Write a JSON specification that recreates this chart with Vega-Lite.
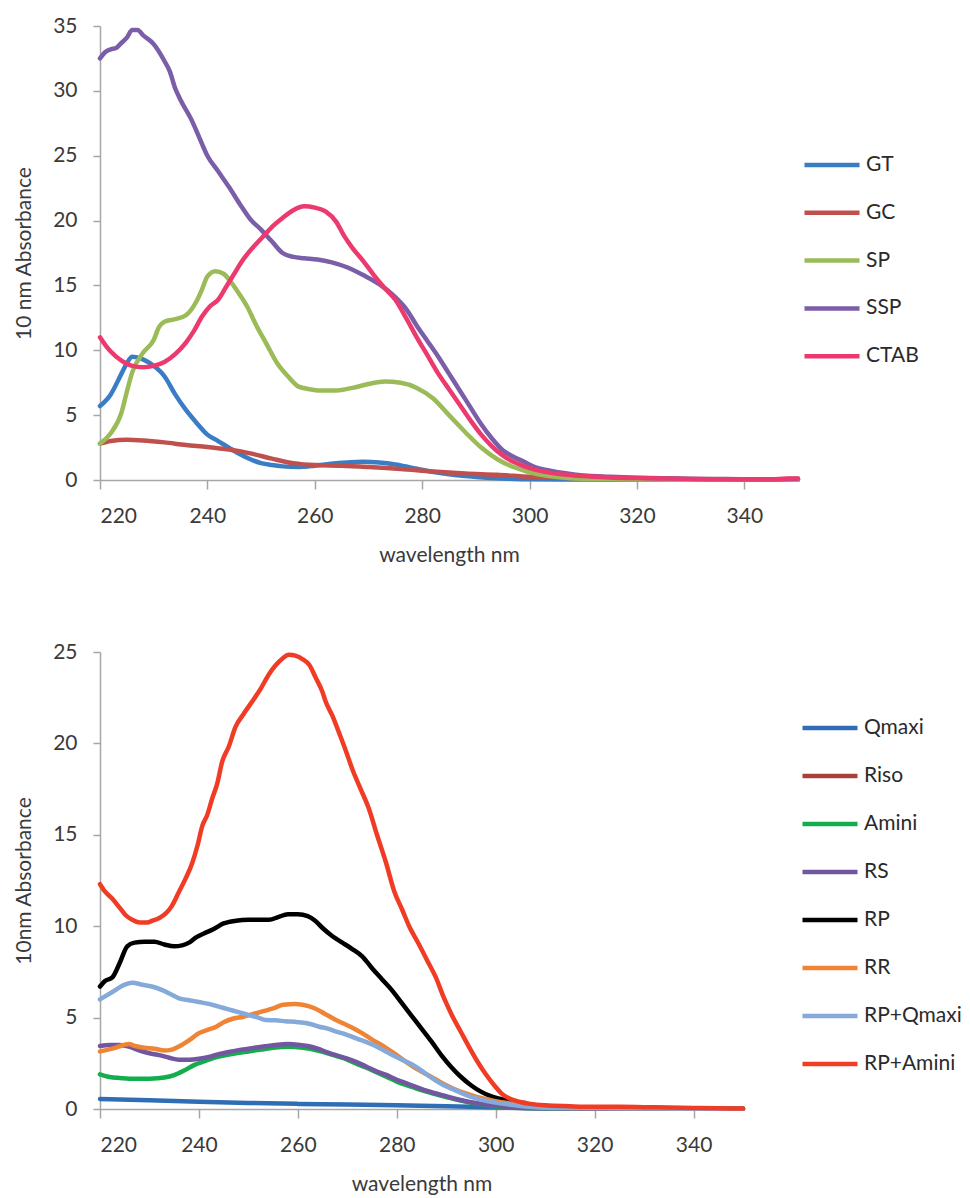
{
  "$schema": "https://vega.github.io/schema/vega-lite/v6.json",
  "padding": {"left": 13, "top": 15, "right": 5, "bottom": 5},
  "spacing": 76,
  "background": "white",
  "resolve": {"scale": {"color": "independent"}, "legend": {"color": "independent"}},
  "config": {
    "view": {"stroke": null},
    "font": "Lato",
    "axis": {
      "grid": false,
      "domainColor": "#A6A6A6",
      "domainWidth": 1.5,
      "tickColor": "#A6A6A6",
      "tickWidth": 1.5,
      "labelFont": "Lato",
      "labelFontSize": 21,
      "labelColor": "#3a3a3a",
      "labelPadding": 16,
      "titleFont": "Lato",
      "titleFontSize": 21,
      "titleFontWeight": "normal",
      "titleColor": "#3a3a3a",
      "titlePadding": 18
    },
    "legend": {
      "title": null,
      "symbolType": "stroke",
      "symbolSize": 3025,
      "symbolStrokeWidth": 4.5,
      "labelFont": "Lato",
      "labelFontSize": 21,
      "labelColor": "#2a2a2a",
      "labelOffset": 4,
      "rowPadding": 8,
      "padding": 0
    }
  },
  "datasets": {
    "top": [
      {"s":"GT","w":220,"a":5.7},{"s":"GT","w":222,"a":6.6},{"s":"GT","w":224,"a":8.2},{"s":"GT","w":225,"a":9.0},{"s":"GT","w":226,"a":9.5},{"s":"GT","w":228,"a":9.3},{"s":"GT","w":230,"a":8.8},{"s":"GT","w":232,"a":8.0},{"s":"GT","w":234,"a":6.6},{"s":"GT","w":236,"a":5.4},{"s":"GT","w":238,"a":4.4},{"s":"GT","w":240,"a":3.5},{"s":"GT","w":242,"a":3.0},{"s":"GT","w":244,"a":2.5},{"s":"GT","w":246,"a":2.0},{"s":"GT","w":248,"a":1.6},{"s":"GT","w":250,"a":1.3},{"s":"GT","w":252,"a":1.15},{"s":"GT","w":254,"a":1.05},{"s":"GT","w":257,"a":1.0},{"s":"GT","w":260,"a":1.1},{"s":"GT","w":263,"a":1.25},{"s":"GT","w":266,"a":1.35},{"s":"GT","w":269,"a":1.4},{"s":"GT","w":272,"a":1.35},{"s":"GT","w":275,"a":1.2},{"s":"GT","w":278,"a":0.95},{"s":"GT","w":281,"a":0.7},{"s":"GT","w":284,"a":0.5},{"s":"GT","w":288,"a":0.3},{"s":"GT","w":292,"a":0.18},{"s":"GT","w":296,"a":0.1},{"s":"GT","w":300,"a":0.05},{"s":"GT","w":310,"a":0.03},{"s":"GT","w":320,"a":0.02},{"s":"GT","w":330,"a":0.02},{"s":"GT","w":340,"a":0.02},{"s":"GT","w":350,"a":0.02},
      {"s":"GC","w":220,"a":2.8},{"s":"GC","w":222,"a":3.0},{"s":"GC","w":225,"a":3.1},{"s":"GC","w":228,"a":3.05},{"s":"GC","w":232,"a":2.9},{"s":"GC","w":236,"a":2.7},{"s":"GC","w":240,"a":2.55},{"s":"GC","w":244,"a":2.35},{"s":"GC","w":248,"a":2.05},{"s":"GC","w":252,"a":1.65},{"s":"GC","w":256,"a":1.3},{"s":"GC","w":260,"a":1.15},{"s":"GC","w":265,"a":1.1},{"s":"GC","w":270,"a":1.0},{"s":"GC","w":276,"a":0.85},{"s":"GC","w":282,"a":0.65},{"s":"GC","w":288,"a":0.5},{"s":"GC","w":294,"a":0.4},{"s":"GC","w":300,"a":0.25},{"s":"GC","w":305,"a":0.18},{"s":"GC","w":310,"a":0.12},{"s":"GC","w":320,"a":0.08},{"s":"GC","w":330,"a":0.05},{"s":"GC","w":340,"a":0.04},{"s":"GC","w":350,"a":0.03},
      {"s":"SP","w":220,"a":2.8},{"s":"SP","w":222,"a":3.6},{"s":"SP","w":224,"a":5.2},{"s":"SP","w":225,"a":6.8},{"s":"SP","w":226,"a":8.3},{"s":"SP","w":228,"a":9.8},{"s":"SP","w":230,"a":10.8},{"s":"SP","w":231,"a":11.8},{"s":"SP","w":232,"a":12.2},{"s":"SP","w":234,"a":12.4},{"s":"SP","w":236,"a":12.7},{"s":"SP","w":238,"a":13.8},{"s":"SP","w":239,"a":14.7},{"s":"SP","w":240,"a":15.7},{"s":"SP","w":241.5,"a":16.1},{"s":"SP","w":243,"a":15.9},{"s":"SP","w":244.5,"a":15.2},{"s":"SP","w":246,"a":14.3},{"s":"SP","w":247.5,"a":13.3},{"s":"SP","w":249,"a":12.0},{"s":"SP","w":251,"a":10.5},{"s":"SP","w":253,"a":9.0},{"s":"SP","w":255,"a":8.0},{"s":"SP","w":257,"a":7.2},{"s":"SP","w":259,"a":7.0},{"s":"SP","w":261,"a":6.9},{"s":"SP","w":264,"a":6.9},{"s":"SP","w":267,"a":7.1},{"s":"SP","w":270,"a":7.4},{"s":"SP","w":273,"a":7.6},{"s":"SP","w":276,"a":7.5},{"s":"SP","w":279,"a":7.1},{"s":"SP","w":282,"a":6.3},{"s":"SP","w":285,"a":5.0},{"s":"SP","w":288,"a":3.7},{"s":"SP","w":291,"a":2.5},{"s":"SP","w":294,"a":1.6},{"s":"SP","w":297,"a":1.0},{"s":"SP","w":300,"a":0.6},{"s":"SP","w":303,"a":0.35},{"s":"SP","w":306,"a":0.2},{"s":"SP","w":310,"a":0.1},{"s":"SP","w":315,"a":0.05},{"s":"SP","w":320,"a":0.03},{"s":"SP","w":330,"a":0.02},{"s":"SP","w":340,"a":0.02},{"s":"SP","w":350,"a":0.02},
      {"s":"SSP","w":220,"a":32.5},{"s":"SSP","w":221,"a":33.0},{"s":"SSP","w":222,"a":33.2},{"s":"SSP","w":223,"a":33.3},{"s":"SSP","w":224,"a":33.7},{"s":"SSP","w":225,"a":34.1},{"s":"SSP","w":226,"a":34.7},{"s":"SSP","w":227,"a":34.7},{"s":"SSP","w":228,"a":34.3},{"s":"SSP","w":230,"a":33.6},{"s":"SSP","w":232,"a":32.3},{"s":"SSP","w":233,"a":31.5},{"s":"SSP","w":234,"a":30.2},{"s":"SSP","w":235,"a":29.3},{"s":"SSP","w":237,"a":27.8},{"s":"SSP","w":238.5,"a":26.4},{"s":"SSP","w":240,"a":25.0},{"s":"SSP","w":242,"a":23.8},{"s":"SSP","w":244,"a":22.6},{"s":"SSP","w":246,"a":21.3},{"s":"SSP","w":248,"a":20.1},{"s":"SSP","w":250,"a":19.3},{"s":"SSP","w":252,"a":18.4},{"s":"SSP","w":254,"a":17.5},{"s":"SSP","w":256,"a":17.2},{"s":"SSP","w":258,"a":17.1},{"s":"SSP","w":260.5,"a":17.0},{"s":"SSP","w":263,"a":16.8},{"s":"SSP","w":266,"a":16.4},{"s":"SSP","w":269,"a":15.8},{"s":"SSP","w":272,"a":15.1},{"s":"SSP","w":275,"a":14.1},{"s":"SSP","w":277,"a":13.2},{"s":"SSP","w":279,"a":11.9},{"s":"SSP","w":281,"a":10.7},{"s":"SSP","w":283,"a":9.5},{"s":"SSP","w":285,"a":8.2},{"s":"SSP","w":287,"a":6.9},{"s":"SSP","w":289,"a":5.6},{"s":"SSP","w":291,"a":4.3},{"s":"SSP","w":293,"a":3.2},{"s":"SSP","w":295,"a":2.3},{"s":"SSP","w":297,"a":1.8},{"s":"SSP","w":299,"a":1.4},{"s":"SSP","w":301,"a":1.0},{"s":"SSP","w":304,"a":0.7},{"s":"SSP","w":307,"a":0.5},{"s":"SSP","w":310,"a":0.35},{"s":"SSP","w":315,"a":0.25},{"s":"SSP","w":320,"a":0.18},{"s":"SSP","w":325,"a":0.14},{"s":"SSP","w":330,"a":0.1},{"s":"SSP","w":335,"a":0.08},{"s":"SSP","w":340,"a":0.06},{"s":"SSP","w":345,"a":0.06},{"s":"SSP","w":350,"a":0.1},
      {"s":"CTAB","w":220,"a":11.0},{"s":"CTAB","w":221,"a":10.4},{"s":"CTAB","w":222,"a":9.9},{"s":"CTAB","w":224,"a":9.2},{"s":"CTAB","w":226,"a":8.8},{"s":"CTAB","w":228,"a":8.7},{"s":"CTAB","w":230,"a":8.8},{"s":"CTAB","w":232,"a":9.1},{"s":"CTAB","w":234,"a":9.7},{"s":"CTAB","w":236,"a":10.6},{"s":"CTAB","w":237.5,"a":11.5},{"s":"CTAB","w":239,"a":12.6},{"s":"CTAB","w":240.5,"a":13.4},{"s":"CTAB","w":242,"a":13.9},{"s":"CTAB","w":243.5,"a":14.9},{"s":"CTAB","w":245,"a":15.9},{"s":"CTAB","w":246.5,"a":16.9},{"s":"CTAB","w":248,"a":17.7},{"s":"CTAB","w":250,"a":18.6},{"s":"CTAB","w":252,"a":19.5},{"s":"CTAB","w":254,"a":20.2},{"s":"CTAB","w":256,"a":20.8},{"s":"CTAB","w":258,"a":21.1},{"s":"CTAB","w":260,"a":21.0},{"s":"CTAB","w":262,"a":20.7},{"s":"CTAB","w":264,"a":19.9},{"s":"CTAB","w":265.5,"a":18.8},{"s":"CTAB","w":267,"a":17.9},{"s":"CTAB","w":269,"a":16.9},{"s":"CTAB","w":271,"a":15.8},{"s":"CTAB","w":273,"a":14.8},{"s":"CTAB","w":275,"a":13.9},{"s":"CTAB","w":277,"a":12.5},{"s":"CTAB","w":279,"a":11.0},{"s":"CTAB","w":281,"a":9.6},{"s":"CTAB","w":283,"a":8.2},{"s":"CTAB","w":285,"a":7.0},{"s":"CTAB","w":287,"a":5.8},{"s":"CTAB","w":289,"a":4.6},{"s":"CTAB","w":291,"a":3.5},{"s":"CTAB","w":293,"a":2.6},{"s":"CTAB","w":295,"a":1.9},{"s":"CTAB","w":297,"a":1.4},{"s":"CTAB","w":299,"a":1.05},{"s":"CTAB","w":301,"a":0.8},{"s":"CTAB","w":304,"a":0.55},{"s":"CTAB","w":307,"a":0.4},{"s":"CTAB","w":310,"a":0.3},{"s":"CTAB","w":315,"a":0.2},{"s":"CTAB","w":320,"a":0.15},{"s":"CTAB","w":325,"a":0.12},{"s":"CTAB","w":330,"a":0.08},{"s":"CTAB","w":335,"a":0.06},{"s":"CTAB","w":340,"a":0.05},{"s":"CTAB","w":345,"a":0.05},{"s":"CTAB","w":348,"a":0.12},{"s":"CTAB","w":350,"a":0.12}
    ],
    "bottom": [
      {"s":"Qmaxi","w":220,"a":0.55},{"s":"Qmaxi","w":230,"a":0.48},{"s":"Qmaxi","w":240,"a":0.4},{"s":"Qmaxi","w":250,"a":0.33},{"s":"Qmaxi","w":260,"a":0.28},{"s":"Qmaxi","w":270,"a":0.24},{"s":"Qmaxi","w":280,"a":0.2},{"s":"Qmaxi","w":290,"a":0.15},{"s":"Qmaxi","w":300,"a":0.08},{"s":"Qmaxi","w":310,"a":0.04},{"s":"Qmaxi","w":320,"a":0.02},{"s":"Qmaxi","w":330,"a":0.02},{"s":"Qmaxi","w":340,"a":0.01},{"s":"Qmaxi","w":350,"a":0.01},
      {"s":"Amini","w":220,"a":1.9},{"s":"Amini","w":222,"a":1.75},{"s":"Amini","w":224,"a":1.7},{"s":"Amini","w":227,"a":1.65},{"s":"Amini","w":230,"a":1.66},{"s":"Amini","w":233,"a":1.72},{"s":"Amini","w":235,"a":1.85},{"s":"Amini","w":237,"a":2.1},{"s":"Amini","w":239,"a":2.4},{"s":"Amini","w":241,"a":2.6},{"s":"Amini","w":243,"a":2.8},{"s":"Amini","w":245,"a":2.92},{"s":"Amini","w":247.5,"a":3.05},{"s":"Amini","w":250,"a":3.15},{"s":"Amini","w":252.5,"a":3.25},{"s":"Amini","w":255,"a":3.35},{"s":"Amini","w":258,"a":3.4},{"s":"Amini","w":261,"a":3.35},{"s":"Amini","w":264,"a":3.2},{"s":"Amini","w":266,"a":3.05},{"s":"Amini","w":268,"a":2.88},{"s":"Amini","w":270,"a":2.7},{"s":"Amini","w":272,"a":2.45},{"s":"Amini","w":274,"a":2.25},{"s":"Amini","w":276,"a":2.0},{"s":"Amini","w":278,"a":1.75},{"s":"Amini","w":280,"a":1.5},{"s":"Amini","w":282,"a":1.3},{"s":"Amini","w":284,"a":1.12},{"s":"Amini","w":286,"a":0.95},{"s":"Amini","w":288,"a":0.8},{"s":"Amini","w":290,"a":0.65},{"s":"Amini","w":292,"a":0.52},{"s":"Amini","w":294,"a":0.4},{"s":"Amini","w":296,"a":0.3},{"s":"Amini","w":298,"a":0.22},{"s":"Amini","w":300,"a":0.15},{"s":"Amini","w":303,"a":0.08},{"s":"Amini","w":306,"a":0.05},{"s":"Amini","w":310,"a":0.03},{"s":"Amini","w":320,"a":0.02},{"s":"Amini","w":330,"a":0.02},{"s":"Amini","w":340,"a":0.01},{"s":"Amini","w":350,"a":0.01},
      {"s":"RS","w":220,"a":3.45},{"s":"RS","w":222,"a":3.5},{"s":"RS","w":224,"a":3.5},{"s":"RS","w":226,"a":3.4},{"s":"RS","w":228,"a":3.2},{"s":"RS","w":230,"a":3.05},{"s":"RS","w":232,"a":2.95},{"s":"RS","w":234,"a":2.8},{"s":"RS","w":236,"a":2.7},{"s":"RS","w":238,"a":2.7},{"s":"RS","w":240,"a":2.75},{"s":"RS","w":242,"a":2.85},{"s":"RS","w":244,"a":3.0},{"s":"RS","w":246,"a":3.12},{"s":"RS","w":248,"a":3.22},{"s":"RS","w":250,"a":3.3},{"s":"RS","w":252,"a":3.38},{"s":"RS","w":254,"a":3.45},{"s":"RS","w":256,"a":3.52},{"s":"RS","w":258,"a":3.55},{"s":"RS","w":260,"a":3.52},{"s":"RS","w":262,"a":3.45},{"s":"RS","w":264,"a":3.3},{"s":"RS","w":266,"a":3.1},{"s":"RS","w":268,"a":2.92},{"s":"RS","w":270,"a":2.75},{"s":"RS","w":272,"a":2.55},{"s":"RS","w":274,"a":2.3},{"s":"RS","w":276,"a":2.05},{"s":"RS","w":278,"a":1.85},{"s":"RS","w":280,"a":1.6},{"s":"RS","w":282,"a":1.4},{"s":"RS","w":284,"a":1.2},{"s":"RS","w":286,"a":1.0},{"s":"RS","w":288,"a":0.85},{"s":"RS","w":290,"a":0.7},{"s":"RS","w":292,"a":0.55},{"s":"RS","w":294,"a":0.43},{"s":"RS","w":296,"a":0.33},{"s":"RS","w":298,"a":0.25},{"s":"RS","w":300,"a":0.18},{"s":"RS","w":303,"a":0.1},{"s":"RS","w":306,"a":0.06},{"s":"RS","w":310,"a":0.04},{"s":"RS","w":320,"a":0.02},{"s":"RS","w":330,"a":0.02},{"s":"RS","w":340,"a":0.01},{"s":"RS","w":350,"a":0.01},
      {"s":"RP","w":220,"a":6.7},{"s":"RP","w":221,"a":7.0},{"s":"RP","w":222.5,"a":7.2},{"s":"RP","w":224,"a":8.0},{"s":"RP","w":225.5,"a":8.9},{"s":"RP","w":227,"a":9.1},{"s":"RP","w":229,"a":9.15},{"s":"RP","w":231,"a":9.15},{"s":"RP","w":233,"a":9.0},{"s":"RP","w":235,"a":8.9},{"s":"RP","w":236.6,"a":8.95},{"s":"RP","w":238,"a":9.1},{"s":"RP","w":239.5,"a":9.4},{"s":"RP","w":241,"a":9.6},{"s":"RP","w":243,"a":9.85},{"s":"RP","w":245,"a":10.15},{"s":"RP","w":247.5,"a":10.3},{"s":"RP","w":250,"a":10.35},{"s":"RP","w":252,"a":10.35},{"s":"RP","w":254.2,"a":10.35},{"s":"RP","w":256,"a":10.5},{"s":"RP","w":258,"a":10.65},{"s":"RP","w":260,"a":10.65},{"s":"RP","w":262,"a":10.55},{"s":"RP","w":263.5,"a":10.3},{"s":"RP","w":265,"a":9.9},{"s":"RP","w":267,"a":9.45},{"s":"RP","w":269,"a":9.1},{"s":"RP","w":271,"a":8.75},{"s":"RP","w":273,"a":8.35},{"s":"RP","w":275,"a":7.7},{"s":"RP","w":277,"a":7.1},{"s":"RP","w":279,"a":6.5},{"s":"RP","w":281,"a":5.8},{"s":"RP","w":283,"a":5.1},{"s":"RP","w":285,"a":4.4},{"s":"RP","w":287,"a":3.7},{"s":"RP","w":289,"a":2.95},{"s":"RP","w":291,"a":2.3},{"s":"RP","w":293,"a":1.75},{"s":"RP","w":295,"a":1.3},{"s":"RP","w":297,"a":0.95},{"s":"RP","w":299,"a":0.7},{"s":"RP","w":301,"a":0.55},{"s":"RP","w":303,"a":0.42},{"s":"RP","w":305,"a":0.3},{"s":"RP","w":308,"a":0.18},{"s":"RP","w":312,"a":0.1},{"s":"RP","w":320,"a":0.05},{"s":"RP","w":330,"a":0.04},{"s":"RP","w":340,"a":0.02},{"s":"RP","w":350,"a":0.02},
      {"s":"RR","w":220,"a":3.15},{"s":"RR","w":222.5,"a":3.3},{"s":"RR","w":225.9,"a":3.55},{"s":"RR","w":227,"a":3.45},{"s":"RR","w":229,"a":3.35},{"s":"RR","w":231,"a":3.3},{"s":"RR","w":233,"a":3.2},{"s":"RR","w":234.5,"a":3.25},{"s":"RR","w":236.5,"a":3.5},{"s":"RR","w":238.5,"a":3.85},{"s":"RR","w":240,"a":4.15},{"s":"RR","w":242,"a":4.35},{"s":"RR","w":243.5,"a":4.5},{"s":"RR","w":245,"a":4.75},{"s":"RR","w":247,"a":4.95},{"s":"RR","w":249,"a":5.05},{"s":"RR","w":251,"a":5.2},{"s":"RR","w":253,"a":5.35},{"s":"RR","w":255,"a":5.5},{"s":"RR","w":257,"a":5.7},{"s":"RR","w":259.5,"a":5.75},{"s":"RR","w":261,"a":5.7},{"s":"RR","w":263.5,"a":5.5},{"s":"RR","w":265.5,"a":5.2},{"s":"RR","w":267.5,"a":4.9},{"s":"RR","w":269,"a":4.7},{"s":"RR","w":271,"a":4.45},{"s":"RR","w":273,"a":4.15},{"s":"RR","w":275,"a":3.8},{"s":"RR","w":277.5,"a":3.4},{"s":"RR","w":280,"a":2.95},{"s":"RR","w":282,"a":2.55},{"s":"RR","w":284,"a":2.2},{"s":"RR","w":286,"a":1.9},{"s":"RR","w":288,"a":1.6},{"s":"RR","w":290,"a":1.3},{"s":"RR","w":292,"a":1.05},{"s":"RR","w":294,"a":0.85},{"s":"RR","w":296,"a":0.68},{"s":"RR","w":298,"a":0.55},{"s":"RR","w":300,"a":0.42},{"s":"RR","w":303,"a":0.3},{"s":"RR","w":306,"a":0.18},{"s":"RR","w":310,"a":0.1},{"s":"RR","w":320,"a":0.05},{"s":"RR","w":330,"a":0.04},{"s":"RR","w":340,"a":0.02},{"s":"RR","w":350,"a":0.02},
      {"s":"RP+Qmaxi","w":220,"a":6.0},{"s":"RP+Qmaxi","w":222.5,"a":6.4},{"s":"RP+Qmaxi","w":225,"a":6.8},{"s":"RP+Qmaxi","w":226.5,"a":6.9},{"s":"RP+Qmaxi","w":228.6,"a":6.8},{"s":"RP+Qmaxi","w":230.5,"a":6.7},{"s":"RP+Qmaxi","w":232.6,"a":6.5},{"s":"RP+Qmaxi","w":234.5,"a":6.25},{"s":"RP+Qmaxi","w":236,"a":6.05},{"s":"RP+Qmaxi","w":238,"a":5.95},{"s":"RP+Qmaxi","w":240,"a":5.85},{"s":"RP+Qmaxi","w":242,"a":5.75},{"s":"RP+Qmaxi","w":244,"a":5.6},{"s":"RP+Qmaxi","w":246,"a":5.45},{"s":"RP+Qmaxi","w":248,"a":5.3},{"s":"RP+Qmaxi","w":250,"a":5.15},{"s":"RP+Qmaxi","w":252,"a":5.0},{"s":"RP+Qmaxi","w":253.5,"a":4.87},{"s":"RP+Qmaxi","w":255.5,"a":4.85},{"s":"RP+Qmaxi","w":257.5,"a":4.8},{"s":"RP+Qmaxi","w":260,"a":4.75},{"s":"RP+Qmaxi","w":262.5,"a":4.65},{"s":"RP+Qmaxi","w":264.3,"a":4.5},{"s":"RP+Qmaxi","w":266,"a":4.4},{"s":"RP+Qmaxi","w":267.6,"a":4.25},{"s":"RP+Qmaxi","w":269.5,"a":4.1},{"s":"RP+Qmaxi","w":271,"a":3.95},{"s":"RP+Qmaxi","w":273,"a":3.75},{"s":"RP+Qmaxi","w":274.4,"a":3.6},{"s":"RP+Qmaxi","w":276,"a":3.4},{"s":"RP+Qmaxi","w":277.8,"a":3.15},{"s":"RP+Qmaxi","w":279.5,"a":2.9},{"s":"RP+Qmaxi","w":281,"a":2.7},{"s":"RP+Qmaxi","w":283,"a":2.45},{"s":"RP+Qmaxi","w":284.5,"a":2.2},{"s":"RP+Qmaxi","w":286,"a":1.9},{"s":"RP+Qmaxi","w":287.9,"a":1.55},{"s":"RP+Qmaxi","w":289.5,"a":1.3},{"s":"RP+Qmaxi","w":291.2,"a":1.1},{"s":"RP+Qmaxi","w":293,"a":0.88},{"s":"RP+Qmaxi","w":294.6,"a":0.7},{"s":"RP+Qmaxi","w":296.3,"a":0.57},{"s":"RP+Qmaxi","w":298,"a":0.45},{"s":"RP+Qmaxi","w":300,"a":0.35},{"s":"RP+Qmaxi","w":302,"a":0.27},{"s":"RP+Qmaxi","w":305,"a":0.17},{"s":"RP+Qmaxi","w":308,"a":0.1},{"s":"RP+Qmaxi","w":312,"a":0.06},{"s":"RP+Qmaxi","w":320,"a":0.04},{"s":"RP+Qmaxi","w":330,"a":0.03},{"s":"RP+Qmaxi","w":340,"a":0.02},{"s":"RP+Qmaxi","w":350,"a":0.02},
      {"s":"RP+Amini","w":220,"a":12.3},{"s":"RP+Amini","w":221,"a":11.9},{"s":"RP+Amini","w":222.5,"a":11.5},{"s":"RP+Amini","w":224,"a":11.0},{"s":"RP+Amini","w":225.2,"a":10.6},{"s":"RP+Amini","w":226.5,"a":10.35},{"s":"RP+Amini","w":228,"a":10.2},{"s":"RP+Amini","w":229.5,"a":10.2},{"s":"RP+Amini","w":230.6,"a":10.3},{"s":"RP+Amini","w":232,"a":10.45},{"s":"RP+Amini","w":233.3,"a":10.7},{"s":"RP+Amini","w":234.5,"a":11.1},{"s":"RP+Amini","w":236,"a":11.9},{"s":"RP+Amini","w":237.3,"a":12.6},{"s":"RP+Amini","w":238.7,"a":13.5},{"s":"RP+Amini","w":239.7,"a":14.4},{"s":"RP+Amini","w":240.7,"a":15.5},{"s":"RP+Amini","w":241.7,"a":16.1},{"s":"RP+Amini","w":242.7,"a":17.0},{"s":"RP+Amini","w":243.7,"a":17.8},{"s":"RP+Amini","w":244.7,"a":19.0},{"s":"RP+Amini","w":246,"a":19.8},{"s":"RP+Amini","w":247.4,"a":20.9},{"s":"RP+Amini","w":249,"a":21.6},{"s":"RP+Amini","w":250.8,"a":22.3},{"s":"RP+Amini","w":252.5,"a":23.0},{"s":"RP+Amini","w":254.2,"a":23.8},{"s":"RP+Amini","w":255.6,"a":24.3},{"s":"RP+Amini","w":256.9,"a":24.65},{"s":"RP+Amini","w":258.2,"a":24.85},{"s":"RP+Amini","w":259.5,"a":24.8},{"s":"RP+Amini","w":261,"a":24.6},{"s":"RP+Amini","w":262.3,"a":24.3},{"s":"RP+Amini","w":263.6,"a":23.6},{"s":"RP+Amini","w":265,"a":22.8},{"s":"RP+Amini","w":265.6,"a":22.3},{"s":"RP+Amini","w":267,"a":21.5},{"s":"RP+Amini","w":268.3,"a":20.6},{"s":"RP+Amini","w":269.7,"a":19.6},{"s":"RP+Amini","w":271,"a":18.6},{"s":"RP+Amini","w":272.7,"a":17.5},{"s":"RP+Amini","w":274.4,"a":16.4},{"s":"RP+Amini","w":276,"a":15.0},{"s":"RP+Amini","w":277.8,"a":13.5},{"s":"RP+Amini","w":279.5,"a":11.9},{"s":"RP+Amini","w":281.1,"a":10.9},{"s":"RP+Amini","w":282.5,"a":10.0},{"s":"RP+Amini","w":284.5,"a":9.0},{"s":"RP+Amini","w":286.2,"a":8.1},{"s":"RP+Amini","w":287.9,"a":7.2},{"s":"RP+Amini","w":289.5,"a":6.1},{"s":"RP+Amini","w":291.2,"a":5.1},{"s":"RP+Amini","w":293,"a":4.2},{"s":"RP+Amini","w":294.6,"a":3.4},{"s":"RP+Amini","w":296.3,"a":2.6},{"s":"RP+Amini","w":298,"a":1.9},{"s":"RP+Amini","w":299.7,"a":1.3},{"s":"RP+Amini","w":301.4,"a":0.8},{"s":"RP+Amini","w":303,"a":0.55},{"s":"RP+Amini","w":305,"a":0.38},{"s":"RP+Amini","w":307,"a":0.28},{"s":"RP+Amini","w":310,"a":0.2},{"s":"RP+Amini","w":315,"a":0.15},{"s":"RP+Amini","w":320,"a":0.12},{"s":"RP+Amini","w":325,"a":0.12},{"s":"RP+Amini","w":330,"a":0.1},{"s":"RP+Amini","w":335,"a":0.08},{"s":"RP+Amini","w":340,"a":0.06},{"s":"RP+Amini","w":345,"a":0.04},{"s":"RP+Amini","w":350,"a":0.03}
    ]
  },
  "vconcat": [
    {
      "width": 698,
      "height": 454,
      "data": {"name": "top"},
      "mark": {"type": "line", "strokeWidth": 4.5, "interpolate": "monotone", "strokeCap": "round", "strokeJoin": "round"},
      "encoding": {
        "x": {"field": "w", "type": "quantitative", "scale": {"domain": [220, 350], "nice": false}, "axis": {"values": [220, 240, 260, 280, 300, 320, 340], "title": "wavelength nm", "tickSize": 9}},
        "y": {"field": "a", "type": "quantitative", "scale": {"domain": [0, 35], "nice": false}, "axis": {"values": [0, 5, 10, 15, 20, 25, 30, 35], "title": "10 nm Absorbance", "tickSize": 7}},
        "color": {"field": "s", "type": "nominal", "scale": {"domain": ["GT", "GC", "SP", "SSP", "CTAB"], "range": ["#3B7DC4", "#C0504D", "#9BBB59", "#7A5FA8", "#EC3A6E"]}, "legend": {"orient": "none", "legendX": 702, "legendY": 109, "rowPadding": 7.8}},
        "order": {"field": "w", "type": "quantitative"}
      }
    },
    {
      "width": 643,
      "height": 457,
      "data": {"name": "bottom"},
      "mark": {"type": "line", "strokeWidth": 4.5, "interpolate": "monotone", "strokeCap": "round", "strokeJoin": "round"},
      "encoding": {
        "x": {"field": "w", "type": "quantitative", "scale": {"domain": [220, 350], "nice": false}, "axis": {"values": [220, 240, 260, 280, 300, 320, 340], "title": "wavelength nm", "tickSize": 9}},
        "y": {"field": "a", "type": "quantitative", "scale": {"domain": [0, 25], "nice": false}, "axis": {"values": [0, 5, 10, 15, 20, 25], "title": "10nm Absorbance", "tickSize": 7}},
        "color": {"field": "s", "type": "nominal", "scale": {"domain": ["Qmaxi", "Riso", "Amini", "RS", "RP", "RR", "RP+Qmaxi", "RP+Amini"], "range": ["#2F6EB5", "#A8403C", "#13AD4C", "#7356A0", "#000000", "#EE8434", "#85A9D9", "#F03C24"]}, "legend": {"orient": "none", "legendX": 700, "legendY": 46, "rowPadding": 8}},
        "order": {"field": "w", "type": "quantitative"}
      }
    }
  ]
}
